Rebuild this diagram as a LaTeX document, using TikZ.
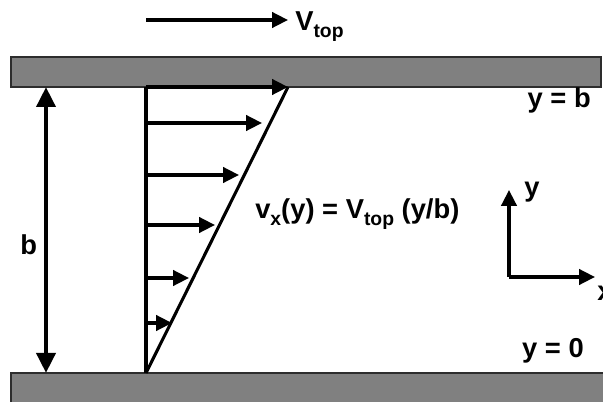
\documentclass[tikz,border=0pt]{standalone}
\usepackage{fontspec}
\setmainfont{Liberation Sans}
\usepackage{tikz}
\usetikzlibrary{arrows.meta,positioning,calc}
\definecolor{plategray}{RGB}{128,128,128}
\definecolor{platerim}{RGB}{45,45,45}
\newcommand{\lowtext}[1]{\raisebox{-0.45ex}{\fontsize{14.5}{14.5}\selectfont #1}}

\begin{document}
\begin{tikzpicture}[
    x=0.75pt, y=-0.75pt,
    plate/.style={draw=platerim, fill=plategray, line width=0.8pt},
    label/.style={inner sep=0pt, font=\fontsize{20.5}{24}\selectfont\bfseries},
    flow/.style={line width=2.5pt, -{Triangle[length=12pt,width=11.5pt]}},
    gap/.style={line width=3.4pt, {Triangle[length=15pt,width=14pt]}-{Triangle[length=15pt,width=14pt]}}
]
    \useasboundingbox (0,0) rectangle (603,402);

    % Plates
    \draw[plate] (11,57) rectangle (601,87);
    \draw[plate] (11,373) rectangle (610,410);

    % Moving plate velocity
    \coordinate (vs) at (146,20);
    \coordinate (ve) at (288,20);
    \draw[flow] (vs) -- (ve);
    \node[label, anchor=base west] (vtop) at (295,31) {V\lowtext{top}};

    % Gap width
    \coordinate (gt) at (46,87);
    \coordinate (gb) at (46,373);
    \draw[gap] (gt) -- (gb);
    \node[label, anchor=base west] (b) at (20,255) {b};

    % Velocity profile
    \coordinate (p0) at (146,373);
    \coordinate (p1) at (146,87);
    \coordinate (tip) at (288,87);
    \draw[line width=2.8pt] (p0) -- (p1);
    \draw[line width=2.3pt] (p0) -- (tip);
    \draw[flow] (p1) -- (tip);
    \foreach \i/\yy/\xx in {1/123/262, 2/175/239, 3/225/215, 4/278/189, 5/323/172} {
        \coordinate (s\i) at (146,\yy);
        \coordinate (t\i) at (\xx,\yy);
        \draw[flow] (s\i) -- (t\i);
    }
    \node[label, anchor=base west] (eq) at (255,219) {v\lowtext{x}(y) = V\lowtext{top} (y/b)};

    % Wall positions
    \node[label, anchor=base east] (ytop) at (591,108) {y = b};
    \node[label, anchor=base east] (ybot) at (584,358) {y = 0};

    % Axes
    \coordinate (o) at (509,277);
    \coordinate (oy) at (509,190);
    \coordinate (ox) at (595,277);
    \draw[flow] (o) -- (oy);
    \draw[flow] (o) -- (ox);
    \node[label, anchor=base west] (ylab) at (524,197) {y};
    \node[label, anchor=base west] (xlab) at (597,301) {x};
\end{tikzpicture}
\end{document}
